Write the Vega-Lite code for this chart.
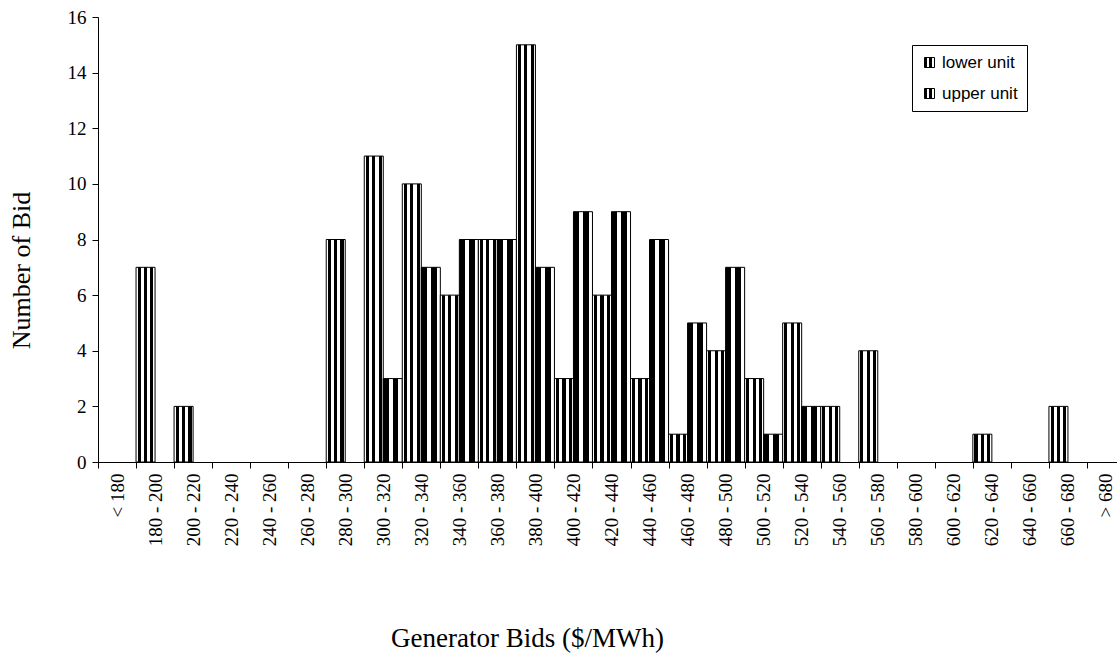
{
  "$schema": "https://vega.github.io/schema/vega-lite/v6.json",
  "width": 1027,
  "height": 445,
  "autosize": "none",
  "padding": {"left": 98, "top": 17, "right": -8, "bottom": 207},
  "background": "white",
  "config": {"view": {"stroke": null}},
  "data": {
    "values": [
      {"bin": "180 - 200", "unit": "lower unit", "count": 7},
      {"bin": "200 - 220", "unit": "lower unit", "count": 2},
      {"bin": "280 - 300", "unit": "lower unit", "count": 8},
      {"bin": "300 - 320", "unit": "lower unit", "count": 11},
      {"bin": "300 - 320", "unit": "upper unit", "count": 3},
      {"bin": "320 - 340", "unit": "lower unit", "count": 10},
      {"bin": "320 - 340", "unit": "upper unit", "count": 7},
      {"bin": "340 - 360", "unit": "lower unit", "count": 6},
      {"bin": "340 - 360", "unit": "upper unit", "count": 8},
      {"bin": "360 - 380", "unit": "lower unit", "count": 8},
      {"bin": "360 - 380", "unit": "upper unit", "count": 8},
      {"bin": "380 - 400", "unit": "lower unit", "count": 15},
      {"bin": "380 - 400", "unit": "upper unit", "count": 7},
      {"bin": "400 - 420", "unit": "lower unit", "count": 3},
      {"bin": "400 - 420", "unit": "upper unit", "count": 9},
      {"bin": "420 - 440", "unit": "lower unit", "count": 6},
      {"bin": "420 - 440", "unit": "upper unit", "count": 9},
      {"bin": "440 - 460", "unit": "lower unit", "count": 3},
      {"bin": "440 - 460", "unit": "upper unit", "count": 8},
      {"bin": "460 - 480", "unit": "lower unit", "count": 1},
      {"bin": "460 - 480", "unit": "upper unit", "count": 5},
      {"bin": "480 - 500", "unit": "lower unit", "count": 4},
      {"bin": "480 - 500", "unit": "upper unit", "count": 7},
      {"bin": "500 - 520", "unit": "lower unit", "count": 3},
      {"bin": "500 - 520", "unit": "upper unit", "count": 1},
      {"bin": "520 - 540", "unit": "lower unit", "count": 5},
      {"bin": "520 - 540", "unit": "upper unit", "count": 2},
      {"bin": "540 - 560", "unit": "lower unit", "count": 2},
      {"bin": "560 - 580", "unit": "lower unit", "count": 4},
      {"bin": "620 - 640", "unit": "lower unit", "count": 1},
      {"bin": "660 - 680", "unit": "lower unit", "count": 2}
    ]
  },
  "mark": {"type": "bar", "strokeWidth": 1},
  "encoding": {
    "x": {
      "field": "bin",
      "type": "nominal",
      "sort": null,
      "scale": {
        "domain": ["< 180", "180 - 200", "200 - 220", "220 - 240", "240 - 260", "260 - 280", "280 - 300", "300 - 320", "320 - 340", "340 - 360", "360 - 380", "380 - 400", "400 - 420", "420 - 440", "440 - 460", "460 - 480", "480 - 500", "500 - 520", "520 - 540", "540 - 560", "560 - 580", "580 - 600", "600 - 620", "620 - 640", "640 - 660", "660 - 680", "> 680"],
        "paddingInner": 0,
        "paddingOuter": 0
      },
      "axis": {
        "title": "Generator Bids ($/MWh)",
        "labelAngle": -90,
        "tickBand": "extent",
        "labelFont": "Liberation Serif",
        "labelFontSize": 19,
        "labelColor": "#000",
        "domainColor": "#000",
        "tickColor": "#000",
        "tickSize": 6,
        "labelPadding": 5,
        "titleFont": "Liberation Serif",
        "titleFontSize": 27,
        "titleFontWeight": "normal",
        "titleColor": "#000",
        "titleX": 429,
        "titleY": 184,
        "titleBaseline": "alphabetic"
      }
    },
    "xOffset": {
      "field": "unit",
      "type": "nominal",
      "scale": {"domain": ["lower unit", "upper unit"], "paddingInner": 0, "paddingOuter": 0}
    },
    "y": {
      "field": "count",
      "type": "quantitative",
      "scale": {"domain": [0, 16], "nice": false},
      "axis": {
        "title": "Number of Bid",
        "values": [0, 2, 4, 6, 8, 10, 12, 14, 16],
        "grid": false,
        "labelFont": "Liberation Serif",
        "labelFontSize": 19,
        "labelColor": "#000",
        "domainColor": "#000",
        "tickColor": "#000",
        "tickSize": 6,
        "labelPadding": 6,
        "titleFont": "Liberation Serif",
        "titleFontSize": 26,
        "titleFontWeight": "normal",
        "titleColor": "#000",
        "titleAngle": -90,
        "titleX": -77,
        "titleY": 253,
        "titleAlign": "center",
        "titleBaseline": "middle"
      }
    },
    "stroke": {
      "field": "unit",
      "type": "nominal",
      "scale": {"domain": ["lower unit", "upper unit"], "range": ["#000", "#000"]},
      "legend": {
        "title": null,
        "orient": "none",
        "legendX": 814,
        "legendY": 28,
        "strokeColor": "#000",
        "fillColor": "#fff",
        "padding": 9,
        "symbolType": "square",
        "symbolSize": 100,
        "symbolStrokeWidth": 1,
        "labelFont": "Liberation Sans",
        "labelFontSize": 17,
        "labelColor": "#000",
        "rowPadding": 13,
        "labelOffset": 4
      }
    },
    "fill": {
      "condition": {
        "test": "datum.unit === 'lower unit'",
        "value": {
          "gradient": "linear", "x1": 0, "y1": 0, "x2": 1, "y2": 0,
          "stops": [
            {"offset": 0, "color": "#fff"}, {"offset": 0.083, "color": "#fff"},
            {"offset": 0.083, "color": "#000"}, {"offset": 0.25, "color": "#000"},
            {"offset": 0.25, "color": "#fff"}, {"offset": 0.417, "color": "#fff"},
            {"offset": 0.417, "color": "#000"}, {"offset": 0.583, "color": "#000"},
            {"offset": 0.583, "color": "#fff"}, {"offset": 0.75, "color": "#fff"},
            {"offset": 0.75, "color": "#000"}, {"offset": 0.917, "color": "#000"},
            {"offset": 0.917, "color": "#fff"}, {"offset": 1, "color": "#fff"}
          ]
        }
      },
      "value": {
        "gradient": "linear", "x1": 0, "y1": 0, "x2": 1, "y2": 0,
        "stops": [
          {"offset": 0, "color": "#000"}, {"offset": 0.3, "color": "#000"},
          {"offset": 0.3, "color": "#fff"}, {"offset": 0.5, "color": "#fff"},
          {"offset": 0.5, "color": "#000"}, {"offset": 0.8, "color": "#000"},
          {"offset": 0.8, "color": "#fff"}, {"offset": 1, "color": "#fff"}
        ]
      }
    }
  }
}
